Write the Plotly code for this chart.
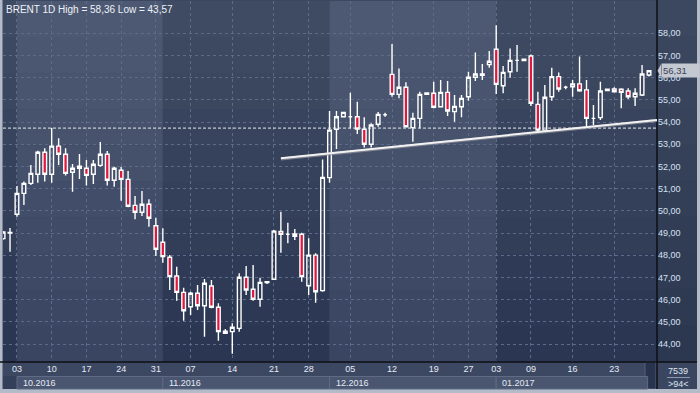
import plotly.graph_objects as go

# ---------------- data ----------------
opens = [48.75, 49.00, 49.85, 50.79, 51.24, 51.65, 52.64, 51.65, 52.92, 52.55,
         51.74, 51.92, 51.92, 51.65, 52.05, 52.55, 51.38, 51.83, 51.42, 50.25,
         49.94, 50.30, 49.33, 48.59, 47.91, 47.07, 46.33, 45.68, 46.29, 45.73,
         46.62, 45.66, 44.58, 44.56, 44.71, 47.01, 46.47, 46.02, 46.77, 46.92,
         49.08, 48.95, 48.96, 48.95, 46.63, 48.01, 46.41, 51.50, 53.68, 54.24,
         54.24, 54.24, 53.68, 53.00, 53.90, 54.33, 56.15, 55.25, 55.57, 53.75,
         54.17, 55.25, 55.30, 54.69, 55.34, 54.47, 54.69, 55.14, 56.02, 56.17,
         56.59, 57.28, 55.64, 56.27, 56.78, 56.77, 56.98, 54.80, 53.64, 55.14,
         56.05, 55.57, 55.59, 55.72, 55.45, 54.17, 54.20, 55.42, 55.49, 55.48,
         55.40, 55.14, 55.22, 56.12]
highs = [49.10, 49.23, 51.12, 51.32, 52.07, 52.71, 52.82, 53.73, 53.27, 52.82,
         52.11, 52.56, 52.29, 52.29, 53.10, 52.70, 51.99, 51.99, 51.80, 50.67,
         50.90, 50.52, 49.69, 49.22, 48.01, 47.49, 46.54, 46.36, 46.66, 46.93,
         46.89, 45.84, 44.68, 44.94, 47.19, 47.52, 47.56, 46.99, 46.83, 49.14,
         49.96, 49.47, 49.18, 49.02, 48.77, 48.09, 52.32, 54.50, 54.50, 54.47,
         55.32, 54.92, 54.22, 53.95, 54.45, 54.42, 57.52, 56.42, 55.79, 54.42,
         55.37, 55.33, 55.82, 55.90, 55.85, 55.22, 55.22, 56.27, 57.13, 56.62,
         57.20, 58.36, 56.53, 57.32, 57.47, 56.83, 57.05, 55.37, 55.67, 56.45,
         56.23, 55.64, 55.90, 56.95, 55.90, 54.77, 55.82, 55.48, 55.57, 55.52,
         55.52, 55.52, 56.57, 56.35]
lows = [48.70, 48.16, 49.74, 50.27, 51.17, 51.27, 51.32, 51.27, 52.07, 51.59,
        50.86, 51.44, 51.14, 51.21, 51.99, 51.14, 51.09, 50.46, 50.16, 49.62,
        49.77, 49.29, 47.97, 47.67, 46.44, 45.95, 45.05, 45.31, 45.54, 44.33,
        45.61, 44.15, 44.49, 43.57, 44.56, 46.21, 45.95, 45.68, 46.71, 46.89,
        48.12, 48.54, 48.69, 46.81, 46.21, 45.86, 46.36, 51.27, 52.79, 54.24,
        53.72, 53.46, 52.86, 52.86, 53.79, 54.24, 55.14, 55.07, 53.79, 53.12,
        53.72, 55.25, 54.62, 54.67, 54.27, 54.02, 54.22, 54.96, 55.85, 55.90,
        56.45, 55.27, 55.30, 56.00, 56.27, 56.77, 54.73, 53.57, 53.57, 54.96,
        55.37, 55.48, 55.14, 55.37, 53.77, 53.87, 54.09, 55.42, 55.33, 54.62,
        55.04, 54.73, 55.18, 56.05]
closes = [49.05, 49.03, 50.79, 51.24, 51.69, 52.64, 51.65, 52.92, 52.55, 51.69,
          51.92, 52.01, 51.60, 52.10, 52.55, 51.38, 51.92, 51.42, 50.21, 49.94,
          50.30, 49.67, 48.27, 47.94, 47.04, 46.33, 45.50, 46.29, 45.73, 46.74,
          45.66, 44.56, 44.49, 44.76, 47.01, 46.44, 46.02, 46.78, 46.81, 49.09,
          48.95, 48.95, 48.86, 47.04, 48.01, 46.36, 51.51, 53.64, 54.24, 54.44,
          54.24, 53.69, 53.00, 53.87, 54.35, 54.33, 55.25, 55.57, 53.79, 54.17,
          55.25, 55.31, 54.67, 55.34, 54.50, 54.71, 55.07, 56.02, 56.17, 56.11,
          56.74, 55.70, 56.24, 56.78, 56.78, 56.83, 54.85, 53.64, 55.12, 56.05,
          55.49, 55.57, 55.72, 55.41, 54.17, 54.17, 55.40, 55.48, 55.37, 55.34,
          55.14, 55.30, 56.17, 56.31]

day_tick_idx = [2, 7, 12, 17, 22, 27, 33, 39, 44, 50, 56, 62, 67, 71, 76, 82, 88]
day_tick_text = ["03", "10", "17", "24", "31", "07", "14", "21", "28",
                 "05", "12", "19", "27", "03", "09", "16", "23"]
month_start_idx = [2, 23, 47, 71]
month_labels = ["10.2016", "11.2016", "12.2016", "01.2017"]
price_ticks = [44, 45, 46, 47, 48, 49, 50, 51, 52, 53, 54, 55, 56, 57, 58]

resistance_level = 53.73
trend_x = [40, 94.15]
trend_y = [52.37, 54.10]
last_price = 56.31
title_text = "BRENT 1D High = 58,36 Low = 43,57"

# ---------------- layout helpers (pixel -> paper) ----------------
W, H = 700, 393
L, R, T, B = 3, 43, 1, 31
PW, PH = W - L - R, H - T - B
FONT = "Liberation Sans, Arial"


def pxx(px):
    return (px - L) / PW


def pxy(py):
    return (H - B - py) / PH


shapes = []


def prect(x0, y0, x1, y1, fill, line=None, lw=0, layer="below"):
    shapes.append(dict(type="rect", xref="paper", yref="paper",
                       x0=pxx(x0), x1=pxx(x1), y0=pxy(y1), y1=pxy(y0),
                       fillcolor=fill, line=dict(color=line or fill, width=lw),
                       layer=layer))


def lerp(c0, c1, t):
    return "rgb(%d,%d,%d)" % tuple(round(a + (b - a) * t) for a, b in zip(c0, c1))


# month bands with vertical gradient
light_top, light_bot = (77, 89, 114), (58, 70, 97)
dark_top, dark_bot = (63, 74, 99), (43, 55, 82)
bounds = [-1] + month_start_idx + [100]
steps = 10
for k in range(len(bounds) - 1):
    light = (k % 2 == 1)
    ct, cb = (light_top, light_bot) if light else (dark_top, dark_bot)
    for s in range(steps):
        shapes.append(dict(type="rect", xref="x", yref="paper",
                           x0=bounds[k], x1=bounds[k + 1],
                           y0=1 - (s + 1) / steps, y1=1 - s / steps,
                           fillcolor=lerp(ct, cb, s / (steps - 1)),
                           line=dict(width=0), layer="below"))

# right axis area (gradient)
for s in range(steps):
    y0 = T + (H - B - T) * s / steps
    y1 = T + (H - B - T) * (s + 1) / steps
    prect(657, y0 - 1, 697, y1, lerp((60, 71, 96), (44, 55, 80), s / (steps - 1)))

# bottom axis area
prect(2.5, 362, 657, 389, "#3c4762")
prect(2.5, 376, 17, 389, "#344059")
prect(645, 362, 656, 389, "#28334d", line="#56617b", lw=1)
prect(657, 362, 697, 389, "#3a4560")
# frame
prect(0, 0, 2.5, 393, "#b3bbc9")
prect(0, 389, 700, 393, "#b3bbc9")
prect(697, 0, 700, 393, "#b3bbc9")

# month boxes (in data x)
for i, st in enumerate(month_start_idx):
    end = month_start_idx[i + 1] if i + 1 < len(month_start_idx) else 92.8
    shapes.append(dict(type="rect", xref="x", yref="paper", x0=st, x1=end,
                       y0=pxy(389), y1=pxy(376.5), fillcolor="#4a5570",
                       line=dict(color="#5f6a85", width=1), layer="below"))

# separator lines
shapes.append(dict(type="line", xref="paper", yref="paper", x0=pxx(0), x1=pxx(697),
                   y0=pxy(362), y1=pxy(362), line=dict(color="#0c0f16", width=1.5)))
shapes.append(dict(type="line", xref="paper", yref="paper", x0=pxx(657), x1=pxx(657),
                   y0=pxy(0), y1=pxy(389), line=dict(color="#0c0f16", width=1.5)))
shapes.append(dict(type="line", xref="paper", yref="paper", x0=pxx(667), x1=pxx(690),
                   y0=pxy(377.5), y1=pxy(377.5), line=dict(color="#8c97ad", width=1)))

# resistance dotted line
shapes.append(dict(type="line", xref="paper", yref="y", x0=0, x1=1,
                   y0=resistance_level, y1=resistance_level,
                   line=dict(color="#e6e9ef", width=1, dash="3px,2px")))
# trend line (shadow + line)
shapes.append(dict(type="line", xref="x", yref="y", x0=trend_x[0], x1=trend_x[1],
                   y0=trend_y[0] - 0.03, y1=trend_y[1] - 0.03,
                   line=dict(color="rgba(150,150,160,0.7)", width=3)))
shapes.append(dict(type="line", xref="x", yref="y", x0=trend_x[0], x1=trend_x[1],
                   y0=trend_y[0], y1=trend_y[1],
                   line=dict(color="#f2f2f2", width=2)))
# last price marker arrow
shapes.append(dict(type="path", xref="paper", yref="y",
                   path="M %f,%f L %f,%f L %f,%f Z" % (
                       pxx(657.5), last_price, pxx(661), last_price + 0.3,
                       pxx(661), last_price - 0.3),
                   fillcolor="#c3c8d1", line=dict(width=0)))

annotations = [
    dict(xref="paper", yref="paper", x=pxx(4), y=pxy(9), text=title_text,
         showarrow=False, xanchor="left", yanchor="middle",
         font=dict(family=FONT, size=10, color="#eef2f8")),
    dict(xref="paper", yref="y", x=pxx(660.5), y=last_price,
         text=f"{last_price:.2f}".replace(".", ","), showarrow=False,
         xanchor="left", yanchor="middle", bgcolor="#c3c8d1", borderpad=1,
         width=35, align="left",
         font=dict(family=FONT, size=9.5, color="#3a4258")),
    dict(xref="paper", yref="paper", x=pxx(678), y=pxy(370.5), text="7539",
         showarrow=False, xanchor="center", yanchor="middle",
         font=dict(family=FONT, size=9, color="#dfe7f3")),
    dict(xref="paper", yref="paper", x=pxx(678), y=pxy(384), text="&gt;94&lt;",
         showarrow=False, xanchor="center", yanchor="middle",
         font=dict(family=FONT, size=9, color="#dfe7f3")),
]
for st, lab in zip(month_start_idx, month_labels):
    annotations.append(dict(xref="x", yref="paper", x=st + 0.6, y=pxy(382.5),
                            text=lab, showarrow=False, xanchor="left",
                            yanchor="middle",
                            font=dict(family=FONT, size=9, color="#e4ebf5")))

fig = go.Figure(go.Candlestick(
    x=list(range(len(opens))), open=opens, high=highs, low=lows, close=closes,
    increasing=dict(line=dict(color="#ffffff", width=1.4),
                    fillcolor="rgba(0,0,0,0)"),
    decreasing=dict(line=dict(color="#ffffff", width=1.4),
                    fillcolor="#e0173f"),
    whiskerwidth=0, hoverinfo="skip", showlegend=False))

fig.update_layout(
    width=W, height=H,
    margin=dict(l=L, r=R, t=T, b=B),
    paper_bgcolor="#3c4762", plot_bgcolor="rgba(0,0,0,0)",
    shapes=shapes, annotations=annotations, showlegend=False,
    boxgap=0.25,
    xaxis=dict(range=[-0.01, 94.15], tickvals=day_tick_idx, ticktext=day_tick_text,
               showgrid=True, gridcolor="#5e6b88", gridwidth=1, griddash="3px,3px",
               zeroline=False, showline=False, ticks="",
               tickfont=dict(family=FONT, size=9, color="#e4ebf5"),
               rangeslider=dict(visible=False), fixedrange=True),
    yaxis=dict(range=[43.194, 59.455], side="right", tickvals=price_ticks,
               ticktext=[f"{v:.2f}".replace(".", ",") for v in price_ticks],
               showgrid=True, gridcolor="#5e6b88", gridwidth=1, griddash="3px,3px",
               zeroline=False, showline=False, ticks="",
               tickfont=dict(family=FONT, size=9, color="#d5e2f3"),
               fixedrange=True),
)

fig.write_html("out.html", config={"displayModeBar": False},
               post_script="document.body.style.margin='0';"
                           "document.body.style.overflow='hidden';")
